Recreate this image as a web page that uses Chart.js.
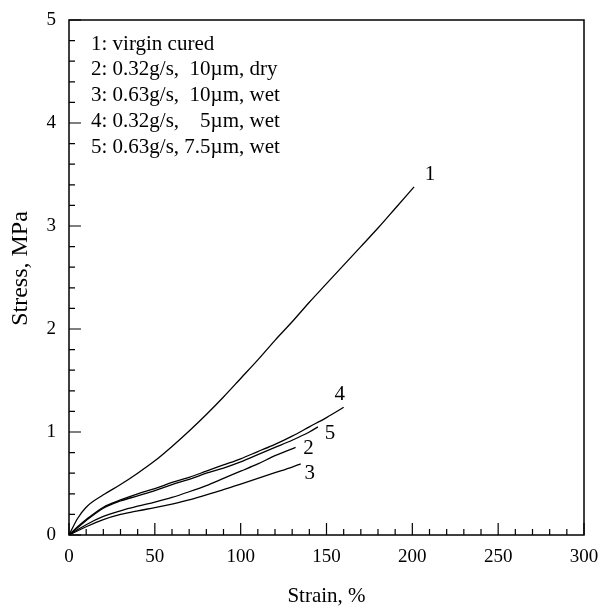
<!DOCTYPE html>
<html>
<head>
<meta charset="utf-8">
<script src="https://cdn.jsdelivr.net/npm/chart.js@4.4.1/dist/chart.umd.min.js"></script>
<style>
  html, body { margin: 0; padding: 0; background: #fff; }
  #wrap { width: 603px; height: 606px; }
</style>
</head>
<body>
<div id="wrap"><canvas id="stressChart" width="603" height="606"></canvas></div>
<script>
// curve data: strain %, stress MPa
const strain1 = [0, 5, 10, 20, 30, 40, 50, 60, 70, 80, 90, 100, 110, 120, 130, 140, 150, 160, 170, 180, 190, 201];
const stress1 = [0, 0.16, 0.27, 0.39, 0.49, 0.6, 0.72, 0.86, 1.01, 1.17, 1.34, 1.52, 1.7, 1.89, 2.07, 2.26, 2.44, 2.62, 2.8, 2.98, 3.17, 3.38];

const strain2 = [0, 10, 20, 30, 40, 50, 60, 70, 80, 90, 100, 110, 120, 132];
const stress2 = [0, 0.1, 0.18, 0.235, 0.28, 0.32, 0.365, 0.42, 0.48, 0.55, 0.62, 0.69, 0.77, 0.85];

const strain3 = [0, 10, 20, 30, 40, 50, 60, 70, 80, 90, 100, 110, 120, 130, 135];
const stress3 = [0, 0.08, 0.15, 0.2, 0.235, 0.265, 0.3, 0.34, 0.39, 0.44, 0.495, 0.55, 0.605, 0.66, 0.69];

const strain4 = [0, 5, 10, 20, 30, 40, 50, 60, 70, 80, 90, 100, 110, 120, 130, 140, 150, 160];
const stress4 = [0, 0.08, 0.15, 0.27, 0.34, 0.4, 0.45, 0.51, 0.56, 0.62, 0.68, 0.74, 0.81, 0.88, 0.96, 1.05, 1.14, 1.24];

const strain5 = [0, 5, 10, 20, 30, 40, 50, 60, 70, 80, 90, 100, 110, 120, 130, 140, 145];
const stress5 = [0, 0.07, 0.14, 0.26, 0.33, 0.38, 0.43, 0.49, 0.54, 0.6, 0.65, 0.71, 0.78, 0.85, 0.92, 1.0, 1.05];

const curveNames = ['1', '2', '3', '4', '5'];
const legendLines = [
    '1: virgin cured',
    '2: 0.32g/s,  10\u00b5m, dry',
    '3: 0.63g/s,  10\u00b5m, wet',
    '4: 0.32g/s,    5\u00b5m, wet',
    '5: 0.63g/s, 7.5\u00b5m, wet'
];

const xTicks = [0, 50, 100, 150, 200, 250, 300];
const yTicks = [0, 1, 2, 3, 4, 5];
const xMinorStep = 10;
const yMinorStep = 0.2;

const FONT = '"Liberation Serif", "DejaVu Serif", serif';

function toPoints(xs, ys) {
    return xs.map(function(x, i) { return { x: x, y: ys[i] }; });
}

const series = [
    toPoints(strain1, stress1),
    toPoints(strain2, stress2),
    toPoints(strain3, stress3),
    toPoints(strain4, stress4),
    toPoints(strain5, stress5)
];

// pixel nudges for the curve number next to each curve end
const labelOffsets = [[16, -12], [13, 1], [9, 10], [-4, -13], [12, 7]];

// frame, inward ticks, curve numbers and the text key
const framePlugin = {
    id: 'frame',
    afterDraw: function(chart) {
        const ctx = chart.ctx;
        const area = chart.chartArea;
        const xs = chart.scales.x;
        const ys = chart.scales.y;
        ctx.save();
        ctx.strokeStyle = '#000';
        ctx.lineWidth = 1.5;
        ctx.strokeRect(area.left, area.top, area.right - area.left, area.bottom - area.top);

        ctx.lineWidth = 1.2;
        ctx.beginPath();
        for (let v = xs.min; v <= xs.max + 1e-9; v += xMinorStep) {
            const px = xs.getPixelForValue(v);
            const len = xTicks.indexOf(Math.round(v)) >= 0 ? 12 : 6;
            ctx.moveTo(px, area.bottom);
            ctx.lineTo(px, area.bottom - len);
        }
        for (let i = 0; i <= Math.round((ys.max - ys.min) / yMinorStep); i++) {
            const v = ys.min + i * yMinorStep;
            const py = ys.getPixelForValue(v);
            const len = Math.abs(v - Math.round(v)) < 1e-6 ? 12 : 6;
            ctx.moveTo(area.left, py);
            ctx.lineTo(area.left + len, py);
        }
        ctx.stroke();

        ctx.fillStyle = '#000';
        ctx.font = '21px ' + FONT;
        ctx.textAlign = 'center';
        ctx.textBaseline = 'middle';
        series.forEach(function(pts, i) {
            const last = pts[pts.length - 1];
            const px = xs.getPixelForValue(last.x) + labelOffsets[i][0];
            const py = ys.getPixelForValue(last.y) + labelOffsets[i][1];
            ctx.fillText(curveNames[i], px, py);
        });

        ctx.textAlign = 'left';
        legendLines.forEach(function(line, i) {
            ctx.fillText(line, area.left + 22, area.top + 24 + i * 25.8);
        });
        ctx.restore();
    }
};

document.addEventListener('DOMContentLoaded', function() {
    const ctx = document.getElementById('stressChart');
    new Chart(ctx, {
        type: 'line',
        data: {
            datasets: series.map(function(pts, i) {
                return {
                    label: curveNames[i],
                    data: pts,
                    borderColor: '#000',
                    borderWidth: 1.3,
                    pointRadius: 0,
                    fill: false,
                    cubicInterpolationMode: 'monotone'
                };
            })
        },
        options: {
            responsive: false,
            animation: false,
            layout: { padding: { top: 20, right: 19, left: 0, bottom: 0 } },
            plugins: { legend: { display: false }, tooltip: { enabled: false } },
            scales: {
                x: {
                    type: 'linear',
                    min: 0,
                    max: 300,
                    afterBuildTicks: function(scale) {
                        scale.ticks = xTicks.map(function(v) { return { value: v }; });
                    },
                    afterFit: function(scale) { scale.height = 71; },
                    grid: { display: false },
                    border: { display: false },
                    ticks: { color: '#000', font: { family: FONT, size: 19 }, padding: 3, maxRotation: 0 },
                    title: { display: true, text: 'Strain, %', color: '#000', font: { family: FONT, size: 21, lineHeight: 0.9 }, padding: { top: 0, bottom: 0 } }
                },
                y: {
                    type: 'linear',
                    min: 0,
                    max: 5,
                    afterBuildTicks: function(scale) {
                        scale.ticks = yTicks.map(function(v) { return { value: v }; });
                    },
                    afterFit: function(scale) { scale.width = 69; },
                    grid: { display: false },
                    border: { display: false },
                    ticks: { color: '#000', font: { family: FONT, size: 19 }, padding: 5 },
                    // leading spaces lift the rotated title a little above the plot middle
                    title: { display: true, text: '   Stress, MPa', color: '#000', font: { family: FONT, size: 24 }, padding: { top: 6, bottom: 0 } }
                }
            }
        },
        plugins: [framePlugin]
    });
});
</script>
</body>
</html>
